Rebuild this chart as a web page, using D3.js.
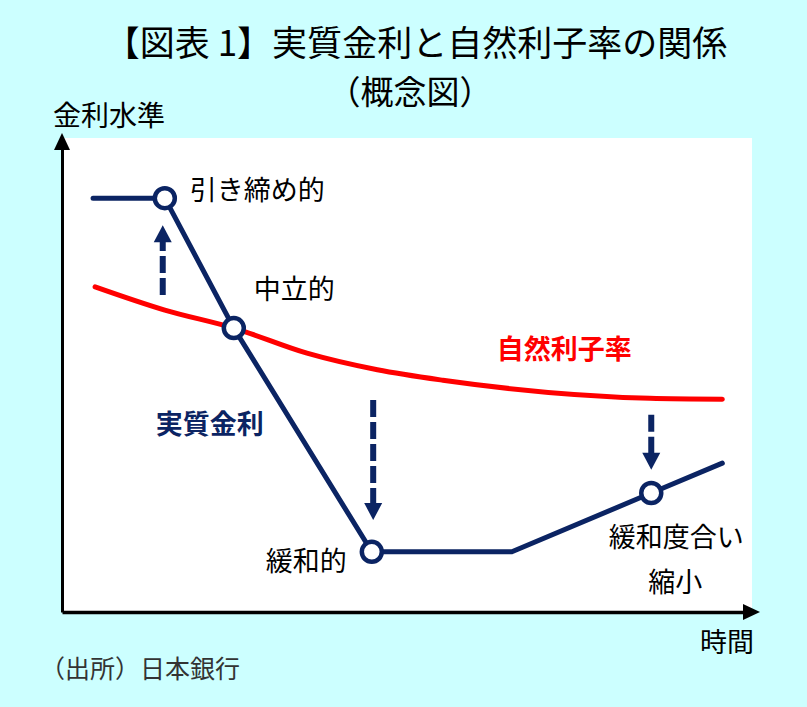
<!DOCTYPE html>
<html lang="ja">
<head>
<meta charset="UTF-8"/>
<title>実質金利と自然利子率の関係</title>
<script src="https://d3js.org/d3.v7.min.js"></script>
<style>
  body { margin: 0; background: #ccffff; }
  text { font-family: "Noto Sans CJK JP", "Noto Sans", sans-serif; }
</style>
</head>
<body>
<script>
var w = 807;
var h = 707;

// time axis / rate level axis, both in conceptual units 0-100
var realTime  = [4.5, 14.9, 24.9, 44.9, 65.2, 85.4, 95.7];
var realRate  = [87.3, 87.3, 59.9, 12.7, 12.7, 25.1, 31.4];
var natTime   = [4.8, 14.9, 24.9, 35.5, 45.7, 55.2, 85.2, 95.7];
var natRate   = [68.6, 63.7, 59.9, 54.6, 51.1, 48.9, 45.1, 44.9];
var markerIdx = [1, 2, 3, 5];

// dashed arrows: time, start level, end level
var arrowTime = [14.6, 45.1, 85.4];
var arrowFrom = [66.9, 44.7, 41.6];
var arrowTo   = [81.6, 19.4, 30.0];

var navy = "#0b2463";
var red = "#ff0000";

var x = d3.scaleLinear().domain([0, 100]).range([62, 752]);
var y = d3.scaleLinear().domain([0, 100]).range([612, 138]);

var svg = d3.select("body")
            .append("svg")
            .attr("width", w)
            .attr("height", h);

svg.append("rect")
    .attr("width", w).attr("height", h)
    .attr("fill", "#ccffff");

// white plot area
svg.append("rect")
    .attr("x", x(0)).attr("y", y(100))
    .attr("width", x(100) - x(0))
    .attr("height", y(0) - y(100))
    .attr("fill", "#ffffff");

/* Titles */
svg.append("text")
    .attr("x", 416).attr("y", 40)
    .attr("text-anchor", "middle")
    .attr("dominant-baseline", "central")
    .attr("font-size", "35px")
    .text("【図表 1】実質金利と自然利子率の関係");

svg.append("text")
    .attr("x", 410).attr("y", 90)
    .attr("text-anchor", "middle")
    .attr("dominant-baseline", "central")
    .attr("font-size", "33px")
    .text("（概念図）");

/* Axes without ticks */
svg.append("g")
    .attr("transform", "translate(0," + y(0) + ")")
    .call(d3.axisBottom(x).tickValues([]).tickSizeOuter(0))
    .select(".domain")
    .attr("stroke", "#000").attr("stroke-width", 3.5);

svg.append("g")
    .attr("transform", "translate(" + x(0) + ",0)")
    .call(d3.axisLeft(y).tickValues([]).tickSizeOuter(0))
    .select(".domain")
    .attr("stroke", "#000").attr("stroke-width", 3);

// axis arrowheads
svg.append("path")
    .attr("d", "M" + (x(100) - 9) + "," + (y(0) - 8) + "L" + (x(100) + 8) + "," + y(0) + "L" + (x(100) - 9) + "," + (y(0) + 8) + "Z")
    .attr("fill", "#000");
svg.append("path")
    .attr("d", "M" + (x(0) - 8) + "," + (y(100) + 12) + "L" + x(0) + "," + (y(100) - 5) + "L" + (x(0) + 8) + "," + (y(100) + 12) + "Z")
    .attr("fill", "#000");

svg.append("text")
    .attr("x", 53).attr("y", 114)
    .attr("dominant-baseline", "central")
    .attr("font-size", "28px")
    .text("金利水準");

svg.append("text")
    .attr("x", 754).attr("y", 640)
    .attr("text-anchor", "end")
    .attr("dominant-baseline", "central")
    .attr("font-size", "27px")
    .text("時間");

svg.append("text")
    .attr("x", 40).attr("y", 667)
    .attr("dominant-baseline", "central")
    .attr("font-size", "25px")
    .attr("fill", "#333")
    .text("（出所）日本銀行");

/* Lines */
var natData = natTime.map(function(t, i) { return [t, natRate[i]]; });
var realData = realTime.map(function(t, i) { return [t, realRate[i]]; });

var natLine = d3.line()
    .x(function(d) { return x(d[0]); })
    .y(function(d) { return y(d[1]); })
    .curve(d3.curveMonotoneX);

var realLine = d3.line()
    .x(function(d) { return x(d[0]); })
    .y(function(d) { return y(d[1]); });

svg.append("path")
    .datum(natData)
    .attr("d", natLine)
    .attr("fill", "none")
    .attr("stroke", red)
    .attr("stroke-width", 5)
    .attr("stroke-linecap", "round");

svg.append("path")
    .datum(realData)
    .attr("d", realLine)
    .attr("fill", "none")
    .attr("stroke", navy)
    .attr("stroke-width", 5)
    .attr("stroke-linecap", "round")
    .attr("stroke-linejoin", "round");

/* Dashed arrows */
var arrows = arrowTime.map(function(t, i) { return [t, arrowFrom[i], arrowTo[i]]; });

svg.selectAll(".darrow")
    .data(arrows)
    .enter()
    .append("line")
    .attr("class", "darrow")
    .attr("x1", function(d) { return x(d[0]); })
    .attr("x2", function(d) { return x(d[0]); })
    .attr("y1", function(d) { return y(d[1]); })
    .attr("y2", function(d) {
        var dir = y(d[2]) > y(d[1]) ? 1 : -1;
        return y(d[2]) - dir * 15;
    })
    .attr("stroke", navy)
    .attr("stroke-width", 6)
    .attr("stroke-dasharray", "17,5");

svg.selectAll(".ahead")
    .data(arrows)
    .enter()
    .append("path")
    .attr("class", "ahead")
    .attr("d", function(d) {
        var tx = x(d[0]), ty = y(d[2]);
        var dir = y(d[2]) > y(d[1]) ? 1 : -1;
        var by = ty - dir * 17;
        return "M" + (tx - 9) + "," + by + "L" + tx + "," + ty + "L" + (tx + 9) + "," + by + "Z";
    })
    .attr("fill", navy);

/* Markers */
svg.selectAll("circle")
    .data(markerIdx)
    .enter()
    .append("circle")
    .attr("cx", function(i) { return x(realTime[i]); })
    .attr("cy", function(i) { return y(realRate[i]); })
    .attr("r", 10)
    .attr("fill", "#fff")
    .attr("stroke", navy)
    .attr("stroke-width", 4.5);

/* Labels */
function mx(i) { return x(realTime[i]); }
function my(i) { return y(realRate[i]); }

var labels = svg.append("g")
    .attr("font-size", "27px")
    .attr("dominant-baseline", "central");

labels.append("text")
    .attr("x", mx(1) + 25).attr("y", my(1) - 10)
    .text("引き締め的");

labels.append("text")
    .attr("x", mx(2) + 20).attr("y", my(2) - 41)
    .text("中立的");

labels.append("text")
    .attr("x", mx(3) - 25).attr("y", my(3) + 8)
    .attr("text-anchor", "end")
    .text("緩和的");

labels.append("text")
    .attr("x", mx(5) + 25).attr("y", my(5) + 42)
    .attr("text-anchor", "middle")
    .text("緩和度合い");

labels.append("text")
    .attr("x", mx(5) + 24).attr("y", my(5) + 87)
    .attr("text-anchor", "middle")
    .text("縮小");

labels.append("text")
    .attr("x", x(13.6)).attr("y", y(39.9))
    .attr("font-weight", "bold")
    .attr("fill", navy)
    .text("実質金利");

labels.append("text")
    .attr("x", x(63.0)).attr("y", y(55.9))
    .attr("font-weight", "bold")
    .attr("fill", red)
    .text("自然利子率");
</script>
</body>
</html>
